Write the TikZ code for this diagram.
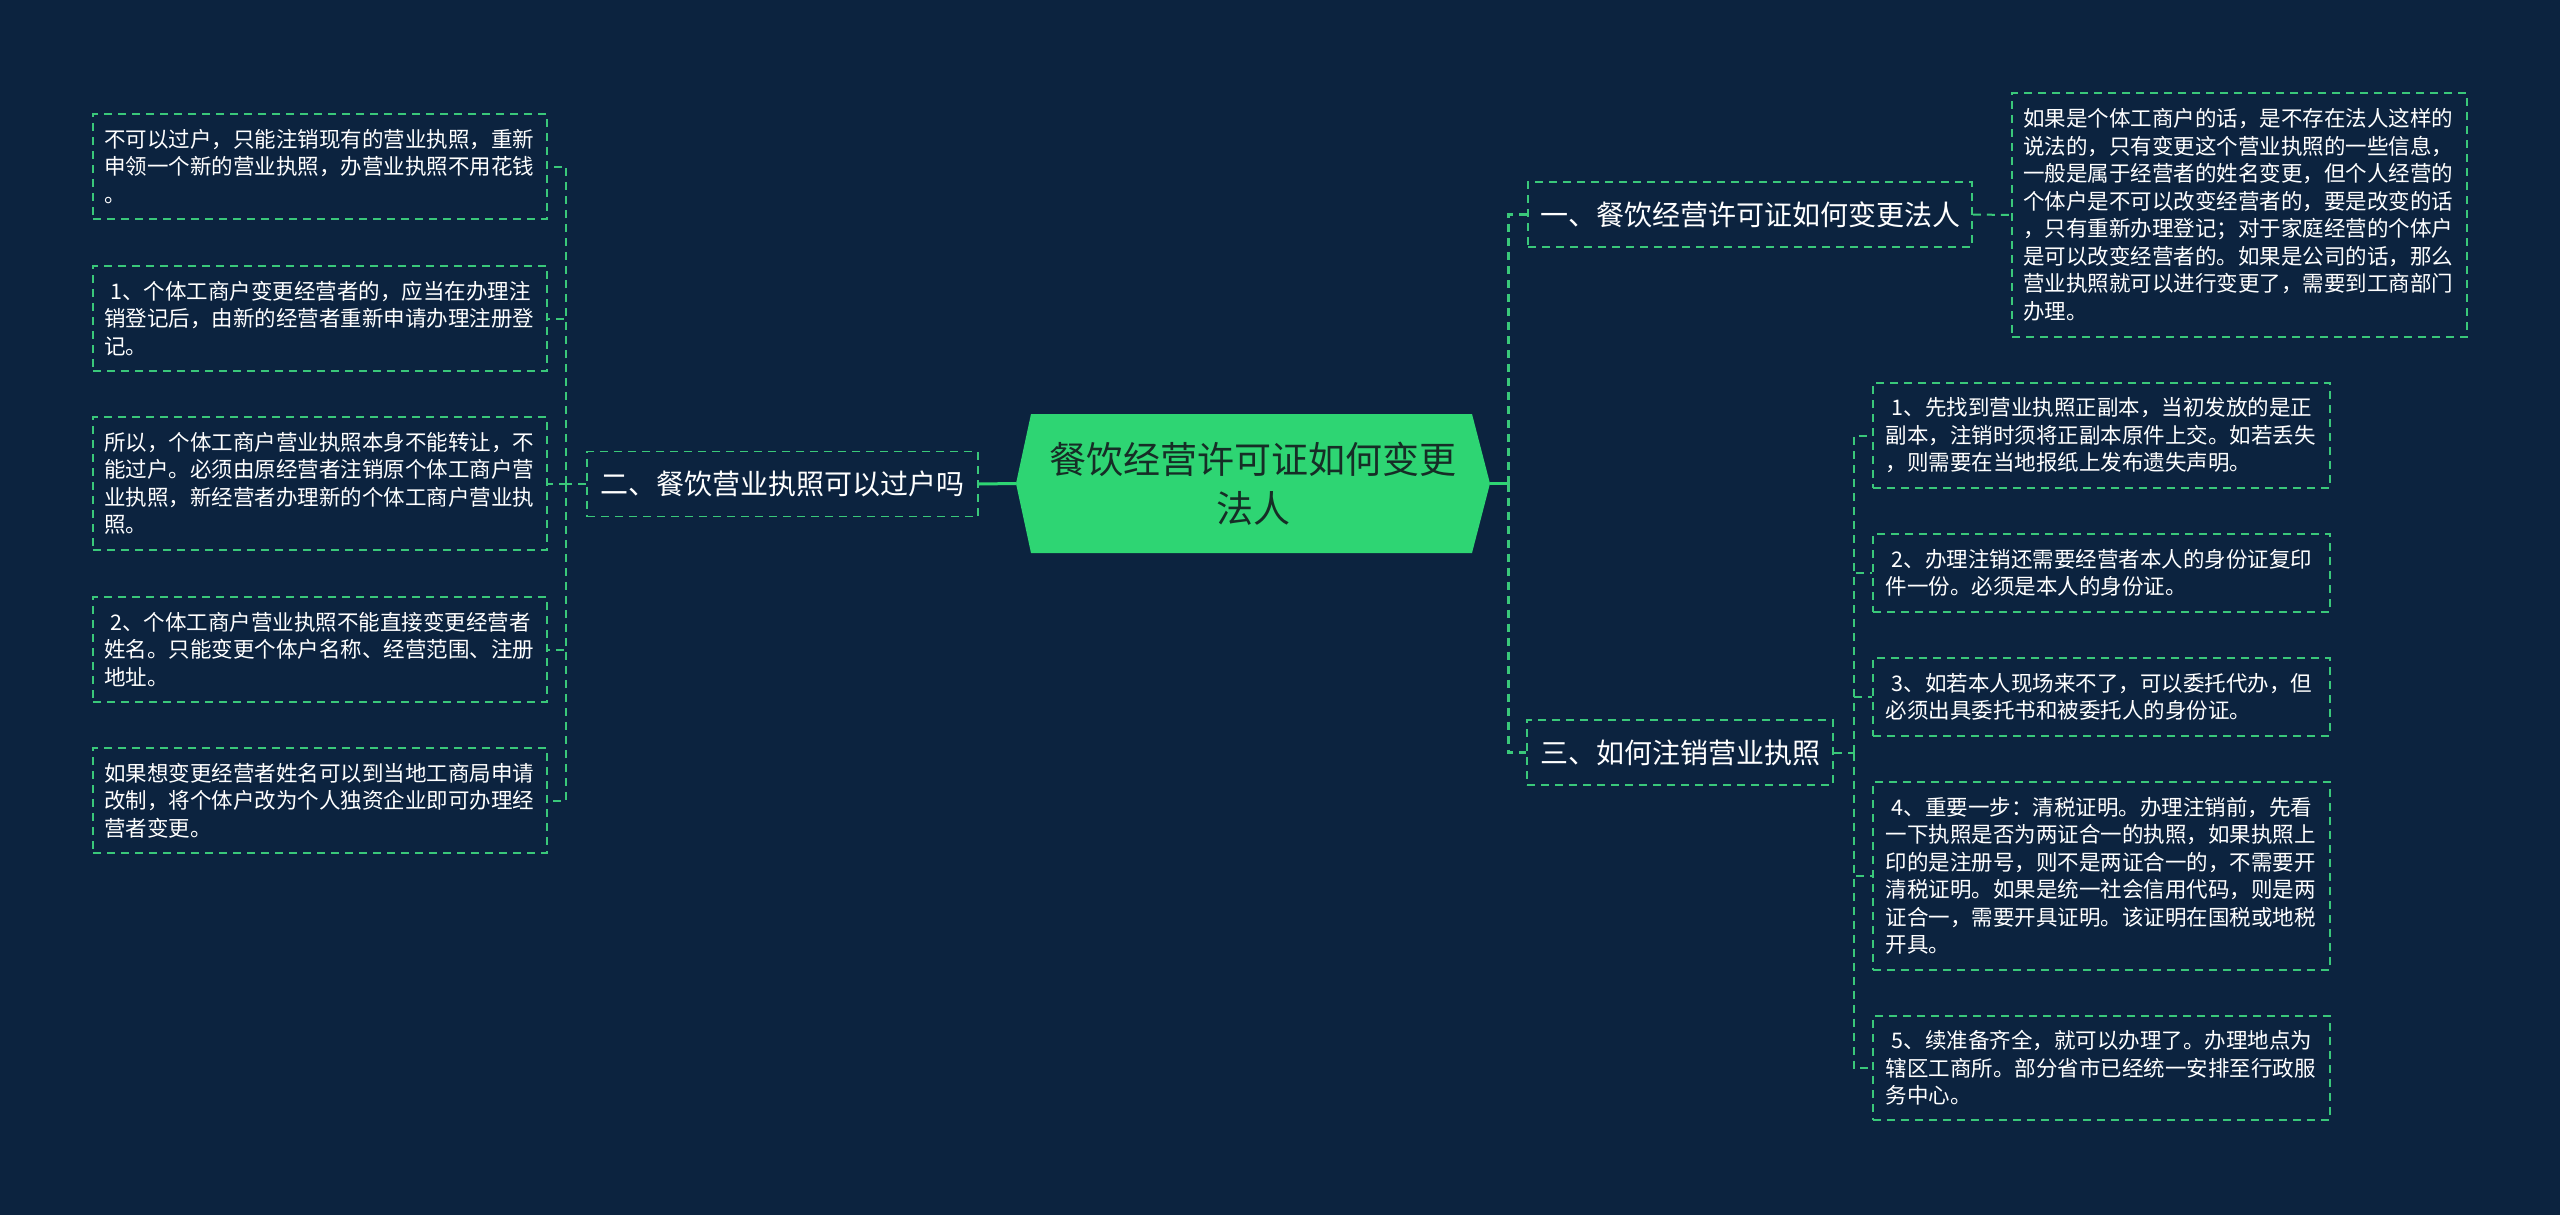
\documentclass[tikz,border=0pt]{standalone}
\usepackage{fontspec}
\newfontfamily\cjk{Noto Sans CJK SC}
\usetikzlibrary{calc}
\definecolor{bg}{RGB}{12,35,63}
\definecolor{gr}{RGB}{46,213,115}
\definecolor{dgr}{RGB}{58,200,122}
\definecolor{roottext}{RGB}{22,45,38}
\tikzset{
  dashpat/.style={dash pattern=on 8pt off 6pt},
  leaf/.style={draw=dgr, dashpat, line width=1.8pt, text=white,
    font=\cjk\fontsize{21.5pt}{27.5pt}\selectfont, align=left,
    text width=432pt, inner xsep=11pt, inner ysep=0pt},
  rleaf/.style={leaf, inner xsep=12.5pt},
  branch/.style={draw=dgr, dashpat, line width=1.8pt, text=white,
    font=\cjk\fontsize{28pt}{34pt}\selectfont, inner sep=0pt,
    minimum height=65pt},
  rootnode/.style={text=roottext, font=\cjk\fontsize{37pt}{49pt}\selectfont,
    align=center, inner sep=0pt, minimum width=474pt, minimum height=139pt},
  conn/.style={draw=dgr, dashpat, line width=2pt},
  mainconn/.style={draw=dgr, dashpat, line width=3pt},
  solidconn/.style={draw=gr, line width=3pt},
}
\begin{document}
\begin{tikzpicture}[x=1pt,y=-1pt]
\useasboundingbox (0,0) rectangle (2560,1215);
\fill[bg] (0,0) rectangle (2560,1215);

% root hexagon
\fill[gr] (1016,483.5) -- (1031,414) -- (1472,414) -- (1490,483.5) -- (1472,553) -- (1031,553) -- cycle;
\node[rootnode] (root) at (1253,483.5) {餐饮经营许可证如何变更\\法人};

% branches
\node[branch, minimum width=391pt] (b2) at (782.5,484) {二、餐饮营业执照可以过户吗};
\node[branch, minimum width=444pt] (b1) at (1750,214.5) {一、餐饮经营许可证如何变更法人};
\node[branch, minimum width=306pt] (b3) at (1680,752.5) {三、如何注销营业执照};

% left leaves
\node[leaf, minimum height=105pt] (L1) at (320,166.5) {不可以过户，只能注销现有的营业执照，重新\\申领一个新的营业执照，办营业执照不用花钱\\。};
\node[leaf, minimum height=105pt] (L2) at (320,318.5) {\hspace{0.3em}1、个体工商户变更经营者的，应当在办理注\\销登记后，由新的经营者重新申请办理注册登\\记。};
\node[leaf, minimum height=133pt] (L3) at (320,483.5) {所以，个体工商户营业执照本身不能转让，不\\能过户。必须由原经营者注销原个体工商户营\\业执照，新经营者办理新的个体工商户营业执\\照。};
\node[leaf, minimum height=105pt] (L4) at (320,649.5) {\hspace{0.3em}2、个体工商户营业执照不能直接变更经营者\\姓名。只能变更个体户名称、经营范围、注册\\地址。};
\node[leaf, minimum height=105pt] (L5) at (320,800.5) {如果想变更经营者姓名可以到当地工商局申请\\改制，将个体户改为个人独资企业即可办理经\\营者变更。};

% right leaf of branch 1
\node[leaf, text width=433pt, minimum height=244pt] (R1) at (2239.5,215) {如果是个体工商户的话，是不存在法人这样的\\说法的，只有变更这个营业执照的一些信息，\\一般是属于经营者的姓名变更，但个人经营的\\个体户是不可以改变经营者的，要是改变的话\\，只有重新办理登记；对于家庭经营的个体户\\是可以改变经营者的。如果是公司的话，那么\\营业执照就可以进行变更了，需要到工商部门\\办理。};

% right leaves of branch 3
\node[rleaf, minimum height=105pt] (Ra) at (2101.5,435.5) {\hspace{0.3em}1、先找到营业执照正副本，当初发放的是正\\副本，注销时须将正副本原件上交。如若丢失\\，则需要在当地报纸上发布遗失声明。};
\node[rleaf, minimum height=78pt] (Rb) at (2101.5,573) {\hspace{0.3em}2、办理注销还需要经营者本人的身份证复印\\件一份。必须是本人的身份证。};
\node[rleaf, minimum height=78pt] (Rc) at (2101.5,697) {\hspace{0.3em}3、如若本人现场来不了，可以委托代办，但\\必须出具委托书和被委托人的身份证。};
\node[rleaf, minimum height=188pt] (Rd) at (2101.5,876) {\hspace{0.3em}4、重要一步：清税证明。办理注销前，先看\\一下执照是否为两证合一的执照，如果执照上\\印的是注册号，则不是两证合一的，不需要开\\清税证明。如果是统一社会信用代码，则是两\\证合一，需要开具证明。该证明在国税或地税\\开具。};
\node[rleaf, minimum height=104pt] (Re) at (2101.5,1068) {\hspace{0.3em}5、续准备齐全，就可以办理了。办理地点为\\辖区工商所。部分省市已经统一安排至行政服\\务中心。};

% root connectors
\draw[solidconn] (root.west) -- (b2.east);
\draw[solidconn] (root.east) -- ++(18,0) coordinate (rj);
\draw[mainconn] (rj) |- (b1.west);
\draw[mainconn] (rj) |- (b3.west);

% left leaves connectors
\draw[conn] (b2.west) -- ++(-20,0) coordinate (lj);
\foreach \n in {L1,L2,L3,L4,L5} {
  \draw[conn] (lj) |- (\n.east);
}

% branch 1 connector
\draw[conn] (b1.east) -- (R1.west);

% branch 3 connectors
\draw[conn] (b3.east) -- ++(20,0) coordinate (rj3);
\foreach \n in {Ra,Rb,Rc,Rd,Re} {
  \draw[conn] (rj3) |- (\n.west);
}
\end{tikzpicture}
\end{document}
